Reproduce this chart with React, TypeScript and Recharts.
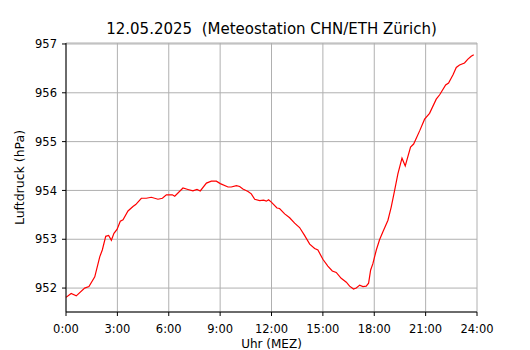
import React from 'react';
import { LineChart, Line, XAxis, YAxis, CartesianGrid } from 'recharts';

const hours = [
  0.0, 0.3, 0.6, 1.09, 1.34, 1.68, 1.97, 2.12, 2.32, 2.49, 2.65, 2.8, 2.98, 3.17, 3.33, 3.62, 3.91, 4.07, 4.4, 4.69,
  4.98, 5.37, 5.63, 5.86, 6.21, 6.35, 6.83, 7.12, 7.41, 7.65, 7.84, 8.2, 8.49, 8.78, 9.01, 9.46, 9.65, 9.95, 10.14, 10.33,
  10.63, 10.82, 11.02, 11.31, 11.54, 11.7, 11.83, 11.99, 12.32, 12.47, 12.77, 13.06, 13.35, 13.64, 13.93, 14.23, 14.52, 14.71, 15.0, 15.29,
  15.55, 15.78, 16.07, 16.37, 16.56, 16.79, 16.95, 17.15, 17.34, 17.53, 17.67, 17.79, 17.92, 18.12, 18.31, 18.5, 18.8, 18.99, 19.19, 19.38,
  19.62, 19.81, 20.12, 20.3, 20.65, 20.94, 21.23, 21.62, 21.82, 22.17, 22.34, 22.6, 22.79, 22.98, 23.27, 23.47, 23.66, 23.81,
];

const pressure = [
  951.81, 951.89, 951.84, 952.0, 952.03, 952.23, 952.64, 952.78, 953.06, 953.08, 952.98, 953.12, 953.2, 953.37, 953.4, 953.58, 953.67, 953.71, 953.84, 953.84,
  953.86, 953.82, 953.84, 953.91, 953.91, 953.88, 954.05, 954.02, 953.99, 954.02, 953.99, 954.15, 954.19, 954.19, 954.14, 954.07, 954.07, 954.1, 954.08, 954.03,
  953.98, 953.93, 953.82, 953.79, 953.8, 953.78, 953.81, 953.76, 953.64, 953.63, 953.52, 953.44, 953.33, 953.24, 953.08, 952.9, 952.81, 952.78, 952.59, 952.45,
  952.35, 952.32, 952.2, 952.12, 952.04, 951.98, 952.0, 952.06, 952.03, 952.04, 952.1, 952.37, 952.5, 952.78, 952.99, 953.15, 953.39, 953.66, 954.0, 954.34,
  954.66, 954.5, 954.89, 954.95, 955.22, 955.46, 955.58, 955.87, 955.96, 956.16, 956.2, 956.37, 956.52, 956.57, 956.61, 956.69, 956.75, 956.78,
];

const xTicks = [0, 3, 6, 9, 12, 15, 18, 21, 24];
const yTicks = [952, 953, 954, 955, 956, 957];

const title = '12.05.2025\u00A0\u00A0(Meteostation CHN/ETH Zürich)';
const xLabel = 'Uhr (MEZ)';
const yLabel = 'Luftdruck (hPa)';

const data = hours.map((h, i) => ({ h, p: pressure[i] }));

const FONT = '"DejaVu Sans", sans-serif';
const W = 522;
const H = 342;
const PLOT_L = 58;
const PLOT_R = 469;
const PLOT_T = 35;
const PLOT_B = 304;

export default function App() {
  return (
    <div style={{ position: 'relative', width: W, height: H, fontFamily: FONT }}>
      <LineChart
        width={W}
        height={H}
        data={data}
        margin={{ top: PLOT_T, right: W - PLOT_R, bottom: 0, left: 0 }}
      >
        <CartesianGrid stroke="#b0b0b0" strokeWidth={1} />
        <XAxis
          dataKey="h"
          type="number"
          domain={[0, 24]}
          ticks={xTicks}
          tickFormatter={(v: number) => `${v}:00`}
          height={H - PLOT_B}
          tickSize={4}
          tickMargin={9}
          interval={0}
          stroke="#000"
          axisLine={{ stroke: '#000', strokeWidth: 1 }}
          tickLine={{ stroke: '#000' }}
          tick={{ fill: '#000', fontSize: 11.5, fontFamily: FONT }}
        />
        <XAxis
          xAxisId="top"
          orientation="top"
          type="number"
          domain={[0, 24]}
          height={0}
          tick={false}
          tickLine={false}
          axisLine={{ stroke: '#000', strokeWidth: 1 }}
        />
        <YAxis
          type="number"
          domain={[951.51, 957.02]}
          allowDataOverflow
          ticks={yTicks}
          interval={0}
          width={PLOT_L}
          tickSize={4}
          tickMargin={5}
          stroke="#000"
          axisLine={{ stroke: '#000', strokeWidth: 1 }}
          tickLine={{ stroke: '#000' }}
          tick={{ fill: '#000', fontSize: 11.5, fontFamily: FONT }}
        />
        <YAxis
          yAxisId="right"
          orientation="right"
          width={0}
          tick={false}
          tickLine={false}
          axisLine={{ stroke: '#000', strokeWidth: 1 }}
        />
        <Line
          type="linear"
          dataKey="p"
          stroke="#ff0000"
          strokeWidth={1.2}
          dot={false}
          isAnimationActive={false}
        />
      </LineChart>
      <svg
        width={W}
        height={H}
        style={{ position: 'absolute', left: 0, top: 0, pointerEvents: 'none' }}
      >
        <text
          x={(PLOT_L + PLOT_R) / 2}
          y={21}
          textAnchor="middle"
          dominantBaseline="central"
          fontSize={15}
          fontFamily={FONT}
          fill="#000"
          style={{ whiteSpace: 'pre' }}
        >
          {title}
        </text>
        <text
          x={(PLOT_L + PLOT_R) / 2}
          y={335.5}
          textAnchor="middle"
          dominantBaseline="central"
          fontSize={12}
          fontFamily={FONT}
          fill="#000"
        >
          {xLabel}
        </text>
        <text
          x={0}
          y={0}
          transform={`translate(11, ${(PLOT_T + PLOT_B) / 2}) rotate(-90)`}
          textAnchor="middle"
          dominantBaseline="central"
          fontSize={12.5}
          fontFamily={FONT}
          fill="#000"
        >
          {yLabel}
        </text>
      </svg>
    </div>
  );
}
